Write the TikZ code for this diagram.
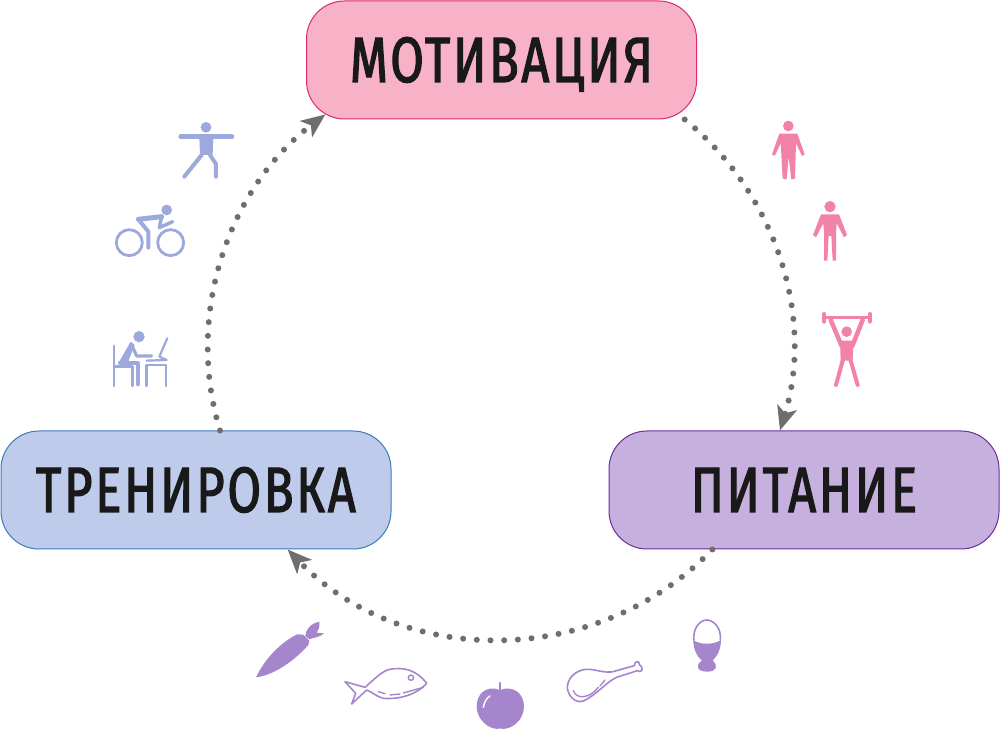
\documentclass[tikz,border=0pt]{standalone}
\usepackage{fontspec}
\setmainfont{Fira Sans}[FakeStretch=0.76,LetterSpace=4.5,FakeBold=2]
\usepackage{xcolor}
\usetikzlibrary{arrows.meta}
\definecolor{pinkfill}{HTML}{F8B2C8}
\definecolor{pinkline}{HTML}{E0286A}
\definecolor{violetfill}{HTML}{C5B0DE}
\definecolor{violetline}{HTML}{6B2E9A}
\definecolor{bluefill}{HTML}{BFCBEB}
\definecolor{blueline}{HTML}{3B7BC0}
\definecolor{figblue}{HTML}{9DA9DC}
\definecolor{figpink}{HTML}{F283A6}
\definecolor{figviolet}{HTML}{A585CC}
\definecolor{dotgray}{HTML}{6E6E6E}
\tikzset{
    stage/.style={rounded corners=38pt,minimum width=390pt,minimum height=118pt,line width=1pt,
        text=black!90,text height=44pt,text depth=0pt,font=\fontsize{64}{64}\selectfont},
    flow/.style={dotgray,line width=6pt,line cap=round,dash pattern=on 0pt off 13.7pt,
        -{Stealth[length=24pt,width=20pt,inset=6pt]}},
    limb/.style={line cap=round,line join=round},
}
\begin{document}
\begin{tikzpicture}[x=1pt,y=1pt]
        \useasboundingbox (0,0) rectangle (1000,730);
        \node[stage,draw=pinkline,fill=pinkfill] (motiv) at (501.5,670) {МОТИВАЦИЯ};
        \node[stage,draw=blueline,fill=bluefill] (train) at (196,240) {ТРЕНИРОВКА};
        \node[stage,draw=violetline,fill=violetfill] (food) at (804,240) {ПИТАНИЕ};
        \draw[flow] (motiv.-18) to[out=-39,in=73,looseness=0.93] (food.112);
        \draw[flow] (food.213) to[out=226,in=-46] (train.-33);
        \draw[flow] (train.68) to[out=107,in=217,looseness=0.93] ([xshift=7pt,yshift=5pt]motiv.198.5);
        % blue figures
        \begin{scope}[shift={(90,630)},xscale=0.3333,yscale=-0.3333,figblue,limb]
            \fill (348,82) circle (16);
            \draw[line width=4.5pt] (272,110) -- (426,110);
            \fill (328,110) -- (370,110) -- (368,165) -- (330,165) -- cycle;
            \draw[line width=4pt] (335,165) -- (283,230);
            \draw[line width=4pt] (360,165) -- (378,192) -- (378,230);
            \draw[line width=2.8pt] (118,428) circle (39);
            \draw[line width=2.8pt] (242,428) circle (39);
            \fill (230,330) circle (16);
            \draw[line width=5pt] (145,358) -- (215,350);
            \draw[line width=4pt] (145,358) -- (175,395) -- (175,443);
            \draw[line width=3.5pt] (215,350) -- (208,383) -- (248,365);
            \draw[line width=2.8pt] (72,738) -- (72,858);
            \draw[line width=2.8pt] (72,800) -- (127,800) -- (127,858);
            \fill (147,710) circle (17);
            \fill (85,790) -- (122,725) -- (134,735) -- (112,792) -- cycle;
            \draw[line width=4pt] (90,790) -- (143,790) -- (143,853);
            \draw[line width=3.2pt] (125,735) -- (140,768) -- (185,768);
            \draw[line width=2.8pt] (170,858) -- (170,795) -- (228,795) -- (228,858);
            \draw[line width=2.2pt] (232,715) -- (208,770) -- (230,780) -- (170,782);
        \end{scope}
        % pink figures
        \begin{scope}[shift={(740,630)},xscale=0.3333,yscale=-0.3333,figpink,limb]
            \fill (145,78) circle (16);
            \fill (118,101) -- (172,101) -- (194,163) -- (186,168) -- (168,130) -- (165,236)
                -- (154,238) -- (146,170) -- (140,238) -- (128,236) -- (122,130) -- (104,168) -- (96,163) -- cycle;
            \fill (270,320) circle (17);
            \fill (243,343) -- (297,343) -- (321,405) -- (312,412) -- (290,370) -- (288,400)
                -- (288,482) -- (278,482) -- (274,408) -- (266,408) -- (262,482) -- (252,482)
                -- (252,400) -- (250,370) -- (228,412) -- (219,405) -- cycle;
            \draw[line width=2.8pt] (250,653) -- (392,653);
            \draw[line width=4pt] (253,642) -- (253,665);
            \draw[line width=4pt] (389,642) -- (389,665);
            \fill (320,695) circle (16);
            \draw[line width=4.5pt] (272,660) -- (305,738);
            \draw[line width=4.5pt] (368,660) -- (337,738);
            \fill (300,722) -- (340,722) -- (338,782) -- (302,782) -- cycle;
            \draw[line width=4pt] (310,775) -- (288,855);
            \draw[line width=4pt] (330,775) -- (353,855);
        \end{scope}
        % violet food
        \begin{scope}[shift={(240,130)},xscale=0.3333,yscale=-0.3333,figviolet,limb]
            \fill (48,232) .. controls (75,175) and (125,125) .. (172,103) -- (190,104) -- (208,122)
                -- (205,135) .. controls (165,180) and (105,225) .. (48,232) -- cycle;
            \fill (196,108) .. controls (196,90) and (212,70) .. (238,65)
                .. controls (240,80) and (236,90) .. (230,98) -- (252,100)
                .. controls (240,112) and (222,112) .. (208,118) -- cycle;
            \draw[line width=1.6pt] (315,245) -- (375,262) .. controls (400,240) and (430,210) .. (450,208)
                .. controls (490,200) and (530,210) .. (560,250)
                .. controls (540,275) and (490,300) .. (430,295) .. controls (410,290) and (395,275) .. (380,270)
                -- (335,312) -- (347,280) -- cycle;
            \draw[line width=1.4pt] (513,233) circle (8);
            \draw[line width=1.4pt] (415,275) -- (435,281);
            \draw[line width=1.4pt] (450,285) -- (480,282);
            \draw[line width=1.4pt] (490,279) -- (550,262);
            \fill (780,270) .. controls (740,255) and (710,280) .. (710,320)
                .. controls (710,360) and (750,392) .. (780,386)
                .. controls (815,392) and (852,360) .. (852,320)
                .. controls (852,280) and (820,255) .. (780,270) -- cycle;
            \draw[line width=1.4pt] (780,248) -- (780,270);
            \draw[white,line width=1.4pt] (750,288) .. controls (738,295) and (733,308) .. (730,322);
            \draw[line width=1.6pt] (1130,212) -- (1183,197) .. controls (1183,183) and (1200,180) .. (1198,194)
                .. controls (1212,200) and (1208,222) .. (1192,212) -- (1130,232)
                .. controls (1100,245) and (1070,285) .. (1030,303)
                .. controls (1005,312) and (982,285) .. (982,260)
                .. controls (985,225) and (1020,205) .. (1050,208) .. controls (1080,212) and (1105,222) .. (1130,212) -- cycle;
            \draw[line width=1.4pt] (1000,272) .. controls (1010,300) and (1050,295) .. (1075,262);
            \draw[line width=1.4pt] (1080,258) -- (1095,240);
            \draw[line width=1.6pt] (1362,120) .. controls (1358,85) and (1380,60) .. (1400,60)
                .. controls (1422,60) and (1445,85) .. (1441,120);
            \fill (1360,120) .. controls (1380,135) and (1420,135) .. (1443,120)
                .. controls (1443,150) and (1430,170) .. (1418,182)
                .. controls (1435,195) and (1432,215) .. (1402,215)
                .. controls (1370,215) and (1365,195) .. (1386,182)
                .. controls (1372,170) and (1360,150) .. (1360,120) -- cycle;
        \end{scope}
    \end{tikzpicture}
\end{document}
